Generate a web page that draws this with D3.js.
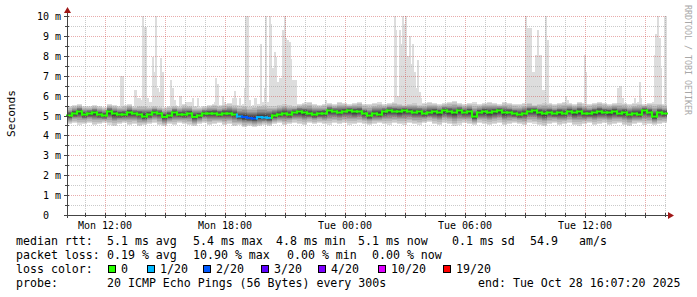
<!DOCTYPE html>
<html>
<head>
<meta charset="utf-8">
<script src="https://cdn.jsdelivr.net/npm/d3@7"></script>
<style>
html, body { margin: 0; padding: 0; background: #fff; }
svg text { font-family: "DejaVu Sans Mono", monospace; white-space: pre; }
</style>
</head>
<body>
<svg id="chart"></svg>
<script>
const width = 697;
const height = 297;

const start = new Date(2025, 9, 27, 10, 7, 20);
const end = new Date(2025, 9, 28, 16, 7, 20);

// median rtt in ms, one value per 15 minutes
const medianRtt = [
    5.0, 5.1, 5.2, 5.05, 5.1, 5.15, 5.05, 5.0, 5.2, 5.1,
    5.05, 5.05, 5.15, 5.1, 5.05, 4.95, 5.05, 5.15, 5.1, 4.93,
    5.0, 5.15, 5.05, 5.05, 5.1, 4.93, 5.0, 5.1, 5.1, 5.1,
    5.05, 5.1, 5.1, 5.05, 4.95, 4.92, 4.88, 4.85, 4.92, 4.9,
    4.88, 5.0, 5.05, 5.1, 5.05, 5.15, 5.2, 5.15, 5.1, 5.05,
    5.1, 5.1, 5.25, 5.2, 5.15, 5.2, 5.25, 5.2, 5.2, 5.1,
    5.0, 5.1, 5.05, 5.2, 5.25, 5.2, 5.2, 5.25, 5.2, 5.15,
    5.2, 5.1, 5.15, 5.2, 5.15, 5.25, 5.2, 5.15, 5.25, 5.15,
    5.2, 4.95, 5.15, 5.2, 5.15, 5.2, 5.25, 5.15, 5.15, 5.1,
    5.05, 5.1, 5.2, 5.25, 5.15, 5.1, 5.15, 5.1, 5.15, 5.1,
    5.2, 5.15, 5.2, 5.1, 5.1, 5.15, 5.2, 5.15, 5.15, 5.2,
    5.1, 5.15, 5.05, 5.1, 5.05, 5.25, 5.15, 4.95, 5.15, 5.1
];

// upper and lower edge of the smoke (ms), per 15 minutes
const smokeHigh = [
    5.5, 5.55, 5.6, 5.5, 5.5, 5.55, 5.5, 5.45, 5.6, 5.55,
    5.5, 5.55, 5.6, 5.5, 5.55, 5.6, 5.5, 5.55, 5.5, 5.45,
    5.5, 5.55, 5.5, 5.6, 5.55, 5.5, 5.45, 5.5, 5.55, 5.6,
    5.55, 5.6, 5.65, 5.6, 5.55, 5.6, 5.5, 5.55, 5.6, 5.65,
    5.6, 5.55, 5.6, 5.65, 5.6, 5.55, 5.6, 5.65, 5.7, 5.6,
    5.55, 5.6, 5.65, 5.6, 5.7, 5.65, 5.6, 5.65, 5.7, 5.6,
    5.6, 5.65, 5.7, 5.6, 5.65, 5.7, 5.65, 5.6, 5.65, 5.7,
    5.6, 5.65, 5.7, 5.65, 5.6, 5.65, 5.7, 5.75, 5.65, 5.6,
    5.65, 5.7, 5.6, 5.65, 5.7, 5.65, 5.6, 5.7, 5.65, 5.6,
    5.6, 5.65, 5.7, 5.6, 5.65, 5.7, 5.65, 5.6, 5.65, 5.7,
    5.65, 5.6, 5.7, 5.65, 5.6, 5.65, 5.7, 5.65, 5.6, 5.65,
    5.7, 5.65, 5.6, 5.65, 5.7, 5.6, 5.65, 5.7, 5.65, 5.6
];
const smokeLow = [
    4.55, 4.6, 4.5, 4.55, 4.6, 4.5, 4.55, 4.6, 4.5, 4.45,
    4.55, 4.6, 4.5, 4.55, 4.45, 4.5, 4.55, 4.6, 4.5, 4.45,
    4.55, 4.5, 4.6, 4.55, 4.5, 4.45, 4.55, 4.6, 4.5, 4.55,
    4.6, 4.5, 4.55, 4.45, 4.5, 4.4, 4.45, 4.4, 4.45, 4.5,
    4.45, 4.55, 4.6, 4.5, 4.55, 4.6, 4.55, 4.5, 4.6, 4.55,
    4.6, 4.55, 4.5, 4.6, 4.55, 4.6, 4.5, 4.55, 4.6, 4.55,
    4.5, 4.55, 4.6, 4.55, 4.5, 4.6, 4.55, 4.5, 4.6, 4.55,
    4.5, 4.6, 4.65, 4.55, 4.5, 4.6, 4.55, 4.45, 4.5, 4.6,
    4.55, 4.5, 4.6, 4.55, 4.5, 4.55, 4.6, 4.5, 4.55, 4.6,
    4.55, 4.5, 4.6, 4.55, 4.5, 4.45, 4.55, 4.6, 4.5, 4.55,
    4.6, 4.5, 4.45, 4.55, 4.6, 4.5, 4.55, 4.6, 4.5, 4.55,
    4.6, 4.5, 4.45, 4.55, 4.6, 4.5, 4.55, 4.5, 4.55, 4.6
];

// slowest ping per 5 minute step where it went above the smoke: [step, ms]
const spikes = [
    [32, 7.0], [33, 7.0], [40, 6.3], [41, 6.3], [42, 5.9], [43, 5.9], [44, 5.8],
    [45, 10.0], [46, 9.45], [47, 9.45], [48, 5.9], [49, 5.7], [50, 5.7],
    [51, 7.95], [52, 7.2], [53, 10.0], [54, 6.4], [55, 6.2], [56, 7.9], [57, 7.2],
    [62, 6.8], [63, 6.4], [64, 5.8], [67, 6.0], [68, 6.0],
    [71, 5.7], [72, 5.7], [73, 5.7], [74, 5.7], [75, 5.9], [78, 5.9],
    [88, 5.7], [89, 6.9], [90, 6.6], [93, 6.0], [94, 5.7],
    [99, 5.9], [100, 6.25], [101, 5.9], [103, 5.9], [106, 6.4], [107, 10.0], [108, 10.0],
    [109, 5.8], [112, 5.9], [113, 5.9], [116, 8.6], [117, 5.7], [118, 6.4],
    [119, 10.0], [120, 5.7], [121, 10.0], [122, 9.6], [123, 7.4], [124, 8.2],
    [125, 7.95], [126, 6.7], [127, 6.9], [128, 6.9], [129, 9.3], [130, 10.0],
    [131, 8.9], [132, 8.8], [133, 8.7], [134, 7.85], [135, 6.8], [136, 6.8], [137, 6.8],
    [142, 5.7], [143, 5.7], [144, 5.6], [145, 5.6], [146, 5.6], [155, 5.8],
    [196, 10.0], [197, 9.3], [198, 6.0], [199, 9.3], [200, 8.6], [201, 10.0],
    [202, 9.6], [203, 10.0], [204, 8.0], [205, 9.0], [206, 7.6], [207, 8.6],
    [208, 7.2], [209, 6.4], [210, 7.8], [211, 6.2], [212, 5.9],
    [275, 10.0], [276, 9.4], [277, 9.4], [278, 9.4], [279, 7.2], [280, 7.2],
    [281, 8.05], [282, 9.3], [283, 8.05], [284, 8.05], [285, 6.3], [286, 6.3],
    [287, 10.0], [288, 8.8], [299, 6.0], [300, 5.8], [310, 8.05], [311, 7.2],
    [330, 6.4], [331, 6.5], [332, 6.5], [333, 5.9], [335, 5.6], [336, 5.6],
    [340, 5.9], [343, 6.7], [344, 5.9],
    [352, 8.05], [353, 9.1], [354, 10.0], [355, 8.9], [356, 7.4], [358, 10.0], [359, 10.0]
];

// lost pings (of 20) per 15 minute step, where any were lost
const lossSteps = [[34, 1], [35, 2], [36, 2], [37, 2], [38, 1], [39, 1], [40, 1]];

const lossCounts = [0, 1, 2, 3, 4, 10, 19];
const lossLabels = ["0", "1/20", "2/20", "3/20", "4/20", "10/20", "19/20"];
const lossColors = ["#26ff00", "#00b8ff", "#0059ff", "#5e00ff", "#7e00ff", "#dd00ff", "#ff0000"];

const rttStats = ["5.1 ms avg", "5.4 ms max", "4.8 ms min", "5.1 ms now", "0.1 ms sd", "54.9", "am/s"];
const lossStats = ["0.19 % avg", "10.90 % max", "0.00 % min", "0.00 % now"];
const probeText = "20 ICMP Echo Pings (56 Bytes) every 300s";
const endText = "end: Tue Oct 28 16:07:20 2025";

const step = 15;      // minutes per median sample
const pingStep = 5;   // minutes per ping sample

const svg = d3.select("#chart")
    .attr("width", width)
    .attr("height", height);

const x = d3.scaleTime()
    .domain([start, end])
    .range([67, 667]);

const y = d3.scaleLinear()
    .domain([0, 10])
    .range([215, 16]);

const at = (i, mins) => d3.timeMinute.offset(start, i * mins);

// spikes (slowest ping), lightest smoke shade
svg.append("g")
    .attr("shape-rendering", "crispEdges")
    .selectAll("rect")
    .data(spikes)
    .enter()
    .append("rect")
    .attr("x", d => x(at(d[0], pingStep)))
    .attr("width", d => x(at(d[0] + 1, pingStep)) - x(at(d[0], pingStep)) + 0.4)
    .attr("y", d => y(d[1]))
    .attr("height", d => y(4.9) - y(d[1]))
    .attr("fill", "#dddddd");

// smoke: nested shades from outer pings to the median
const bandFrac = [1, 0.85, 0.72, 0.6, 0.5, 0.4, 0.32, 0.24, 0.16, 0.08];
const smoke = svg.append("g").attr("shape-rendering", "crispEdges");

bandFrac.forEach((f, k) => {
    const g = Math.round(190 / 10 * (10 - (k + 1))) + 50;
    smoke.append("g")
        .selectAll("rect")
        .data(medianRtt)
        .enter()
        .append("rect")
        .attr("x", (m, i) => x(at(i, step)))
        .attr("width", (m, i) => x(at(i + 1, step)) - x(at(i, step)))
        .attr("y", (m, i) => y(m + (smokeHigh[i] - m) * f))
        .attr("height", (m, i) => y(m - (m - smokeLow[i]) * f) - y(m + (smokeHigh[i] - m) * f))
        .attr("fill", d3.rgb(g, g, g));
});

// grid
const grid = svg.append("g");
const yMinor = d3.range(0.5, 10.01, 0.5);

grid.selectAll("line.h")
    .data(yMinor)
    .enter()
    .append("line")
    .attr("x1", 67)
    .attr("x2", 667)
    .attr("y1", d => Math.round(y(d)) + 0.5)
    .attr("y2", d => Math.round(y(d)) + 0.5)
    .attr("stroke", d => Number.isInteger(d) ? "rgba(205,70,70,0.45)" : "rgba(150,150,150,0.5)")
    .attr("stroke-dasharray", "1,1");

const hours = d3.timeHour.range(start, end);

grid.selectAll("line.v")
    .data(hours)
    .enter()
    .append("line")
    .attr("x1", d => Math.round(x(d)) + 0.5)
    .attr("x2", d => Math.round(x(d)) + 0.5)
    .attr("y1", y(10))
    .attr("y2", y(0))
    .attr("stroke", d => d.getHours() % 3 === 0 ? "rgba(205,70,70,0.45)" : "rgba(150,150,150,0.5)")
    .attr("stroke-dasharray", "1,1");

// median line, coloured by loss
const lossAt = new Map(lossSteps);
const lossColor = i => {
    const n = lossAt.get(i) || 0;
    let c = 0;
    lossCounts.forEach((v, j) => { if (n >= v) c = j; });
    return lossColors[c];
};

const line = svg.append("g")
    .attr("stroke-width", 2)
    .attr("stroke-linecap", "square");

medianRtt.forEach((m, i) => {
    const col = lossColor(i);
    if (i > 0) {
        line.append("line")
            .attr("x1", x(at(i, step)))
            .attr("x2", x(at(i, step)))
            .attr("y1", y(medianRtt[i - 1]))
            .attr("y2", y(m))
            .attr("stroke", col);
    }
    line.append("line")
        .attr("x1", x(at(i, step)))
        .attr("x2", x(at(i + 1, step)))
        .attr("y1", y(m))
        .attr("y2", y(m))
        .attr("stroke", col);
});

// axes
const axisColor = "#444";
const x0 = x.range()[0];
const yBase = y(0);

svg.append("line")
    .attr("x1", x0 - 3).attr("x2", x.range()[1] + 3)
    .attr("y1", yBase + 0.5).attr("y2", yBase + 0.5)
    .attr("stroke", axisColor);

svg.append("line")
    .attr("x1", x0 + 0.5).attr("x2", x0 + 0.5)
    .attr("y1", yBase + 3).attr("y2", y(10) - 4)
    .attr("stroke", axisColor);

svg.append("g")
    .selectAll("line")
    .data(hours)
    .enter()
    .append("line")
    .attr("x1", d => Math.round(x(d)) + 0.5)
    .attr("x2", d => Math.round(x(d)) + 0.5)
    .attr("y1", yBase - 2)
    .attr("y2", d => yBase + (d.getHours() % 3 === 0 ? 3 : 2))
    .attr("stroke", axisColor);

svg.append("g")
    .selectAll("line")
    .data(yMinor)
    .enter()
    .append("line")
    .attr("x1", d => x0 - (Number.isInteger(d) ? 3 : 2))
    .attr("x2", x0 + 2)
    .attr("y1", d => Math.round(y(d)) + 0.5)
    .attr("y2", d => Math.round(y(d)) + 0.5)
    .attr("stroke", axisColor);

// arrows
const arrowColor = "#a01818";
svg.append("path")
    .attr("d", `M${x0 - 3},${y(10) - 3} L${x0 + 4},${y(10) - 3} L${x0 + 0.5},${y(10) - 9} Z`)
    .attr("fill", arrowColor);
svg.append("path")
    .attr("d", `M${x.range()[1] + 1},${yBase - 3} L${x.range()[1] + 1},${yBase + 4} L${x.range()[1] + 7},${yBase + 0.5} Z`)
    .attr("fill", arrowColor);

// tick labels
svg.append("g")
    .selectAll("text")
    .data(d3.range(0, 11))
    .enter()
    .append("text")
    .attr("x", 61)
    .attr("y", d => y(d) + 4)
    .attr("text-anchor", "end")
    .style("font-size", "10px")
    .text(d => d === 0 ? "0  " : d + " m");

svg.append("g")
    .selectAll("text")
    .data(hours.filter(d => d.getHours() % 6 === 0))
    .enter()
    .append("text")
    .attr("x", d => x(d) + 0.5)
    .attr("y", 229)
    .attr("text-anchor", "middle")
    .style("font-size", "10px")
    .text(d => d3.timeFormat("%a %H:%M")(d));

svg.append("text")
    .attr("transform", "translate(15,113.5) rotate(-90)")
    .attr("text-anchor", "middle")
    .style("font-size", "11.2px")
    .text("Seconds");

svg.append("text")
    .attr("transform", "translate(685,5) rotate(90)")
    .style("font-size", "8.3px")
    .attr("fill", "#a8a8a8")
    .text("RRDTOOL / TOBI OETIKER");

// legend
const legend = svg.append("g").style("font-size", "11.6px");
const rttX = [107, 193, 276, 358, 452, 530, 579];
const lossX = [107, 193, 287, 372];
const boxX = [108, 147, 203, 261, 318, 378, 443];

legend.append("text").attr("x", 16).attr("y", 245).text("median rtt:");
legend.selectAll("text.rtt")
    .data(rttStats)
    .enter()
    .append("text")
    .attr("class", "rtt")
    .attr("x", (d, i) => rttX[i])
    .attr("y", 245)
    .text(d => d);

legend.append("text").attr("x", 16).attr("y", 259).text("packet loss:");
legend.selectAll("text.loss")
    .data(lossStats)
    .enter()
    .append("text")
    .attr("class", "loss")
    .attr("x", (d, i) => lossX[i])
    .attr("y", 259)
    .text(d => d);

legend.append("text").attr("x", 16).attr("y", 273).text("loss color:");
legend.selectAll("rect")
    .data(lossColors)
    .enter()
    .append("rect")
    .attr("x", (d, i) => boxX[i] + 0.5)
    .attr("y", 265.5)
    .attr("width", 7)
    .attr("height", 7)
    .attr("fill", d => d)
    .attr("stroke", "#000");
legend.selectAll("text.lc")
    .data(lossLabels)
    .enter()
    .append("text")
    .attr("class", "lc")
    .attr("x", (d, i) => boxX[i] + 13)
    .attr("y", 273)
    .text(d => d);

legend.append("text").attr("x", 16).attr("y", 287).text("probe:");
legend.append("text").attr("x", 107).attr("y", 287).text(probeText);
legend.append("text").attr("x", 478).attr("y", 287).text(endText);
</script>
</body>
</html>
